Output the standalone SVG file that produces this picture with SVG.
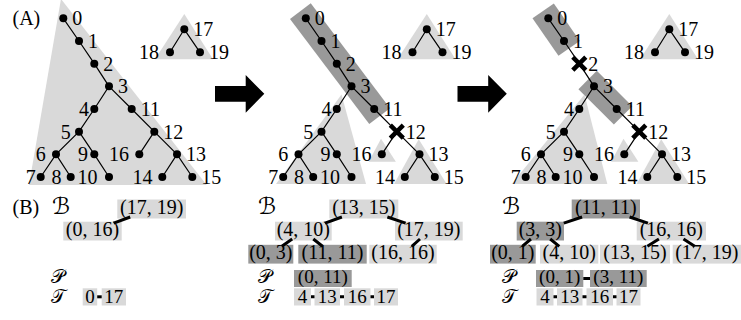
<svg xmlns="http://www.w3.org/2000/svg" width="741" height="320" viewBox="0 0 741 320">
<defs>
<style>
text{font-family:"Liberation Serif","Times New Roman",serif;font-size:20px;fill:#000}
.e{text-anchor:end}
.m{text-anchor:middle}
.s19{font-size:19px}
.scr{font-family:"DejaVu Serif","DejaVu Sans","Noto Sans",serif;font-size:23px;font-style:normal}
.scs{font-family:"DejaVu Serif","DejaVu Sans","Noto Sans",serif;font-size:19px;font-style:normal}
.lt{fill:#d9d9d9}
.dk{fill:#999999}
.edge{fill:none;stroke:#000;stroke-width:1.2}
.dot{fill:#000}
.x{fill:none;stroke:#000;stroke-width:4.5}
.bc{stroke:#000;stroke-width:3;fill:none}
.arrow{fill:#000}
</style>
</defs>

<text x="12.5" y="24.5">(A)</text>

<!-- Panel 1 -->
<g id="panel1">
<polygon class="lt" points="61,-1 29,185 206.7,185"/>
<polygon class="lt" points="184.3,14 155,59.3 213,59.3"/>
<g id="p1-edges"><path class="edge" d="M63.3,18.3 L79,41 L94.3,63.7 L109,86.3 L94.3,109 L79,131.7 L56,154.3 L40.7,177 M56,154.3 L70.7,177 M79,131.7 L94.3,154.3 L109,177 M109,86.3 L131.7,109 L154.3,131.7 L177,154.3 L192.3,177 M154.3,131.7 L139.3,154.3 M177,154.3 L162.3,177 M170,52.3 L184.3,29.3 L200,52.3"/></g>
<g id="p1-n0"><circle class="dot" cx="63.3" cy="18.3" r="4"/><text x="72.3" y="25.3">0</text></g>
<g id="p1-n1"><circle class="dot" cx="79" cy="41" r="4"/><text x="88" y="48">1</text></g>
<g id="p1-n2"><circle class="dot" cx="94.3" cy="63.7" r="4"/><text x="103.3" y="70.7">2</text></g>
<g id="p1-n3"><circle class="dot" cx="109" cy="86.3" r="4"/><text x="118" y="93.3">3</text></g>
<g id="p1-n4"><circle class="dot" cx="94.3" cy="109" r="4"/><text class="e" x="89" y="116">4</text></g>
<g id="p1-n11"><circle class="dot" cx="131.7" cy="109" r="4"/><text x="140.7" y="116">11</text></g>
<g id="p1-n5"><circle class="dot" cx="79" cy="131.7" r="4"/><text class="e" x="70.7" y="138.7">5</text></g>
<g id="p1-n12"><circle class="dot" cx="154.3" cy="131.7" r="4"/><text x="163.3" y="138.7">12</text></g>
<g id="p1-n6"><circle class="dot" cx="56" cy="154.3" r="4"/><text class="e" x="45.7" y="161.3">6</text></g>
<g id="p1-n9"><circle class="dot" cx="94.3" cy="154.3" r="4"/><text class="e" x="88" y="161.3">9</text></g>
<g id="p1-n16"><circle class="dot" cx="139.3" cy="154.3" r="4"/><text class="e" x="129" y="161.3">16</text></g>
<g id="p1-n13"><circle class="dot" cx="177" cy="154.3" r="4"/><text x="186" y="161.3">13</text></g>
<g id="p1-n7"><circle class="dot" cx="40.7" cy="177" r="4"/><text class="e" x="35.7" y="184">7</text></g>
<g id="p1-n8"><circle class="dot" cx="70.7" cy="177" r="4"/><text class="e" x="61.4" y="184">8</text></g>
<g id="p1-n10"><circle class="dot" cx="109" cy="177" r="4"/><text class="e" x="97.4" y="184">10</text></g>
<g id="p1-n14"><circle class="dot" cx="162.3" cy="177" r="4"/><text class="e" x="152.4" y="184">14</text></g>
<g id="p1-n15"><circle class="dot" cx="192.3" cy="177" r="4"/><text x="201.3" y="184">15</text></g>
<g id="p1-n17"><circle class="dot" cx="184.3" cy="29.3" r="4"/><text x="193.3" y="36.3">17</text></g>
<g id="p1-n18"><circle class="dot" cx="170" cy="52.3" r="4"/><text class="e" x="159" y="59.3">18</text></g>
<g id="p1-n19"><circle class="dot" cx="200" cy="52.3" r="4"/><text x="209" y="59.3">19</text></g>
</g>

<polygon id="arrow1" class="arrow" points="215,86 245.7,86 245.7,75 264.3,93.8 245.7,112.7 245.7,101.7 215,101.7"/>

<!-- Panel 2 -->
<g id="panel2" transform="translate(242.5,0)">
<polygon class="lt" points="184.3,14 155,59.3 213,59.3"/>
<polygon class="lt" points="99,94.5 33.5,184 123.5,184"/>
<polygon class="lt" points="138.5,138.8 126.2,161.7 153.4,161.7"/>
<polygon class="lt" points="176.2,139.3 151.6,184 204.2,184"/>
<rect class="dk" x="-9" y="-13" width="131.6" height="26" transform="translate(63.3,18.3) rotate(52.98)"/>
<g id="p2-edges"><path class="edge" d="M63.3,18.3 L79,41 L94.3,63.7 L109,86.3 L94.3,109 L79,131.7 L56,154.3 L40.7,177 M56,154.3 L70.7,177 M79,131.7 L94.3,154.3 L109,177 M109,86.3 L131.7,109 L154.3,131.7 L177,154.3 L192.3,177 M154.3,131.7 L139.3,154.3 M177,154.3 L162.3,177 M170,52.3 L184.3,29.3 L200,52.3"/></g>
<g id="p2-n0"><circle class="dot" cx="63.3" cy="18.3" r="4"/><text x="72.3" y="25.3">0</text></g>
<g id="p2-n1"><circle class="dot" cx="79" cy="41" r="4"/><text x="88" y="48">1</text></g>
<g id="p2-n2"><circle class="dot" cx="94.3" cy="63.7" r="4"/><text x="103.3" y="70.7">2</text></g>
<g id="p2-n3"><circle class="dot" cx="109" cy="86.3" r="4"/><text x="118" y="93.3">3</text></g>
<g id="p2-n4"><circle class="dot" cx="94.3" cy="109" r="4"/><text class="e" x="89" y="116">4</text></g>
<g id="p2-n11"><circle class="dot" cx="131.7" cy="109" r="4"/><text x="140.7" y="116">11</text></g>
<g id="p2-n5"><circle class="dot" cx="79" cy="131.7" r="4"/><text class="e" x="70.7" y="138.7">5</text></g>
<g id="p2-n12"><path class="x" d="M147.8,125.2 L160.8,138.2 M147.8,138.2 L160.8,125.2"/><text x="163.3" y="138.7">12</text></g>
<g id="p2-n6"><circle class="dot" cx="56" cy="154.3" r="4"/><text class="e" x="45.7" y="161.3">6</text></g>
<g id="p2-n9"><circle class="dot" cx="94.3" cy="154.3" r="4"/><text class="e" x="88" y="161.3">9</text></g>
<g id="p2-n16"><circle class="dot" cx="139.3" cy="154.3" r="4"/><text class="e" x="129" y="161.3">16</text></g>
<g id="p2-n13"><circle class="dot" cx="177" cy="154.3" r="4"/><text x="186" y="161.3">13</text></g>
<g id="p2-n7"><circle class="dot" cx="40.7" cy="177" r="4"/><text class="e" x="35.7" y="184">7</text></g>
<g id="p2-n8"><circle class="dot" cx="70.7" cy="177" r="4"/><text class="e" x="61.4" y="184">8</text></g>
<g id="p2-n10"><circle class="dot" cx="109" cy="177" r="4"/><text class="e" x="97.4" y="184">10</text></g>
<g id="p2-n14"><circle class="dot" cx="162.3" cy="177" r="4"/><text class="e" x="152.4" y="184">14</text></g>
<g id="p2-n15"><circle class="dot" cx="192.3" cy="177" r="4"/><text x="201.3" y="184">15</text></g>
<g id="p2-n17"><circle class="dot" cx="184.3" cy="29.3" r="4"/><text x="193.3" y="36.3">17</text></g>
<g id="p2-n18"><circle class="dot" cx="170" cy="52.3" r="4"/><text class="e" x="159" y="59.3">18</text></g>
<g id="p2-n19"><circle class="dot" cx="200" cy="52.3" r="4"/><text x="209" y="59.3">19</text></g>
</g>

<polygon id="arrow2" class="arrow" points="457.5,86 488.2,86 488.2,75 506.8,93.8 488.2,112.7 488.2,101.7 457.5,101.7"/>

<!-- Panel 3 -->
<g id="panel3" transform="translate(485,0)">
<polygon class="lt" points="184.3,14 155,59.3 213,59.3"/>
<polygon class="lt" points="99.5,94.5 26.7,184 122.3,184"/>
<polygon class="lt" points="138.5,138.8 126.2,161.7 153.4,161.7"/>
<polygon class="lt" points="176.2,139.3 151.6,184 204.2,184"/>
<rect class="dk" x="-9" y="-13" width="45.6" height="26" transform="translate(63.3,18.3) rotate(55.3)"/>
<rect class="dk" x="-9" y="-13" width="50.1" height="26" transform="translate(109,86.3) rotate(45)"/>
<g id="p3-edges"><path class="edge" d="M63.3,18.3 L79,41 L94.3,63.7 L109,86.3 L94.3,109 L79,131.7 L56,154.3 L40.7,177 M56,154.3 L70.7,177 M79,131.7 L94.3,154.3 L109,177 M109,86.3 L131.7,109 L154.3,131.7 L177,154.3 L192.3,177 M154.3,131.7 L139.3,154.3 M177,154.3 L162.3,177 M170,52.3 L184.3,29.3 L200,52.3"/></g>
<g id="p3-n0"><circle class="dot" cx="63.3" cy="18.3" r="4"/><text x="72.3" y="25.3">0</text></g>
<g id="p3-n1"><circle class="dot" cx="79" cy="41" r="4"/><text x="88" y="48">1</text></g>
<g id="p3-n2"><path class="x" d="M87.8,57.2 L100.8,70.2 M87.8,70.2 L100.8,57.2"/><text x="103.3" y="70.7">2</text></g>
<g id="p3-n3"><circle class="dot" cx="109" cy="86.3" r="4"/><text x="118" y="93.3">3</text></g>
<g id="p3-n4"><circle class="dot" cx="94.3" cy="109" r="4"/><text class="e" x="89" y="116">4</text></g>
<g id="p3-n11"><circle class="dot" cx="131.7" cy="109" r="4"/><text x="140.7" y="116">11</text></g>
<g id="p3-n5"><circle class="dot" cx="79" cy="131.7" r="4"/><text class="e" x="70.7" y="138.7">5</text></g>
<g id="p3-n12"><path class="x" d="M147.8,125.2 L160.8,138.2 M147.8,138.2 L160.8,125.2"/><text x="163.3" y="138.7">12</text></g>
<g id="p3-n6"><circle class="dot" cx="56" cy="154.3" r="4"/><text class="e" x="45.7" y="161.3">6</text></g>
<g id="p3-n9"><circle class="dot" cx="94.3" cy="154.3" r="4"/><text class="e" x="88" y="161.3">9</text></g>
<g id="p3-n16"><circle class="dot" cx="139.3" cy="154.3" r="4"/><text class="e" x="129" y="161.3">16</text></g>
<g id="p3-n13"><circle class="dot" cx="177" cy="154.3" r="4"/><text x="186" y="161.3">13</text></g>
<g id="p3-n7"><circle class="dot" cx="40.7" cy="177" r="4"/><text class="e" x="35.7" y="184">7</text></g>
<g id="p3-n8"><circle class="dot" cx="70.7" cy="177" r="4"/><text class="e" x="61.4" y="184">8</text></g>
<g id="p3-n10"><circle class="dot" cx="109" cy="177" r="4"/><text class="e" x="97.4" y="184">10</text></g>
<g id="p3-n14"><circle class="dot" cx="162.3" cy="177" r="4"/><text class="e" x="152.4" y="184">14</text></g>
<g id="p3-n15"><circle class="dot" cx="192.3" cy="177" r="4"/><text x="201.3" y="184">15</text></g>
<g id="p3-n17"><circle class="dot" cx="184.3" cy="29.3" r="4"/><text x="193.3" y="36.3">17</text></g>
<g id="p3-n18"><circle class="dot" cx="170" cy="52.3" r="4"/><text class="e" x="159" y="59.3">18</text></g>
<g id="p3-n19"><circle class="dot" cx="200" cy="52.3" r="4"/><text x="209" y="59.3">19</text></g>
</g>

<!-- Part B -->
<text x="12.5" y="214">(B)</text>
<text class="scr" x="52" y="214">ℬ</text>
<text class="scs" x="51" y="282.6">𝒫</text>
<text class="scs" x="51" y="303.4">𝒯</text>
<text class="scr" x="258" y="214">ℬ</text>
<text class="scs" x="258" y="282.6">𝒫</text>
<text class="scs" x="258" y="303.4">𝒯</text>
<text class="scr" x="502" y="214">ℬ</text>
<text class="scs" x="502" y="282.6">𝒫</text>
<text class="scs" x="502" y="303.4">𝒯</text>

<g id="b1-1719"><rect class="lt" x="117.3" y="199.5" width="68.7" height="19"/><text class="m" x="151.65" y="214">(17, 19)</text></g>
<g id="b1-016"><rect class="lt" x="63.3" y="221.7" width="58.4" height="18.8"/><text class="m" x="92.5" y="236.2">(0, 16)</text></g>
<g id="t1-0"><rect class="lt" x="82.7" y="288.3" width="14.5" height="17.2"/><text class="m s19" x="89.95" y="303.4">0</text></g>
<g id="t1-17"><rect class="lt" x="101.7" y="288.3" width="24.3" height="17.2"/><text class="m s19" x="113.85" y="303.4">17</text></g>

<g id="b2-1315"><rect class="lt" x="329.3" y="199.5" width="69" height="19"/><text class="m" x="363.8" y="214">(13, 15)</text></g>
<g id="b2-410"><rect class="lt" x="275" y="221.7" width="56.7" height="18.8"/><text class="m" x="303.35" y="236.2">(4, 10)</text></g>
<g id="b2-1719"><rect class="lt" x="395" y="221.7" width="67.7" height="18.8"/><text class="m" x="428.85" y="236.2">(17, 19)</text></g>
<g id="b2-03"><rect class="dk" x="248.3" y="244.8" width="45" height="18.8"/><text class="m" x="270.8" y="259.3">(0, 3)</text></g>
<g id="b2-1111"><rect class="dk" x="298.3" y="244.8" width="68.4" height="18.8"/><text class="m" x="332.5" y="259.3">(11, 11)</text></g>
<g id="b2-1616"><rect class="lt" x="369.3" y="244.8" width="67.4" height="18.8"/><text class="m" x="403" y="259.3">(16, 16)</text></g>
<g id="p2-011"><rect class="dk" x="294" y="270" width="57.7" height="17"/><text class="m s19" x="322.85" y="282.6">(0, 11)</text></g>
<g id="t2-4"><rect class="lt" x="294" y="288.3" width="17" height="17.2"/><text class="m s19" x="302.5" y="303.4">4</text></g>
<g id="t2-13"><rect class="lt" x="314.5" y="288.3" width="25.5" height="17.2"/><text class="m s19" x="327.25" y="303.4">13</text></g>
<g id="t2-16"><rect class="lt" x="344" y="288.3" width="26.5" height="17.2"/><text class="m s19" x="357.25" y="303.4">16</text></g>
<g id="t2-17"><rect class="lt" x="374" y="288.3" width="24" height="17.2"/><text class="m s19" x="386" y="303.4">17</text></g>

<g id="b3-1111"><rect class="dk" x="571.7" y="199.5" width="68.3" height="19"/><text class="m" x="605.85" y="214">(11, 11)</text></g>
<g id="b3-33"><rect class="dk" x="516.7" y="221.7" width="47.3" height="18.8"/><text class="m" x="540.35" y="236.2">(3, 3)</text></g>
<g id="b3-1616"><rect class="lt" x="636.7" y="221.7" width="69.3" height="18.8"/><text class="m" x="671.35" y="236.2">(16, 16)</text></g>
<g id="b3-01"><rect class="dk" x="490" y="244.8" width="45.7" height="18.8"/><text class="m" x="512.85" y="259.3">(0, 1)</text></g>
<g id="b3-410"><rect class="lt" x="540" y="244.8" width="58.3" height="18.8"/><text class="m" x="569.15" y="259.3">(4, 10)</text></g>
<g id="b3-1315"><rect class="lt" x="600" y="244.8" width="70" height="18.8"/><text class="m" x="635" y="259.3">(13, 15)</text></g>
<g id="b3-1719"><rect class="lt" x="672.7" y="244.8" width="68.3" height="18.8"/><text class="m" x="706.85" y="259.3">(17, 19)</text></g>
<g id="p3-01"><rect class="dk" x="536" y="270" width="47.3" height="17"/><text class="m s19" x="559.65" y="282.6">(0, 1)</text></g>
<g id="p3-311"><rect class="dk" x="590" y="270" width="56.7" height="17"/><text class="m s19" x="618.35" y="282.6">(3, 11)</text></g>
<g id="t3-4"><rect class="lt" x="536.5" y="288.3" width="17" height="17.2"/><text class="m s19" x="545" y="303.4">4</text></g>
<g id="t3-13"><rect class="lt" x="557" y="288.3" width="25.5" height="17.2"/><text class="m s19" x="569.75" y="303.4">13</text></g>
<g id="t3-16"><rect class="lt" x="586.5" y="288.3" width="26.5" height="17.2"/><text class="m s19" x="599.75" y="303.4">16</text></g>
<g id="t3-17"><rect class="lt" x="616.5" y="288.3" width="24" height="17.2"/><text class="m s19" x="628.5" y="303.4">17</text></g>

<g id="connectors">
<path class="bc" d="M130.2,217 L113.7,223.2"/>
<path class="bc" d="M97.2,296.8 L101.7,296.8"/>
<path class="bc" d="M341.9,217 L325,223.2 M387.35,217 L405.6,223.2 M292.2,239 L281.9,246.3 M313.3,239 L322.5,246.3 M420,239 L411.8,246.3"/>
<path class="bc" d="M311,296.8 L314.5,296.8 M340,296.8 L344,296.8 M370.5,296.8 L374,296.8"/>
<path class="bc" d="M582.1,217 L563.8,223.2 M629.6,217 L647.9,223.2 M530.95,239 L522.25,246.3 M550.2,239 L559.3,246.3 M658.9,239 L647.4,246.3 M683.5,239 L694.7,246.3"/>
<path class="bc" d="M583.3,278.5 L590,278.5"/>
<path class="bc" d="M553.5,296.8 L557,296.8 M582.5,296.8 L586.5,296.8 M613,296.8 L616.5,296.8"/>
</g>
</svg>
